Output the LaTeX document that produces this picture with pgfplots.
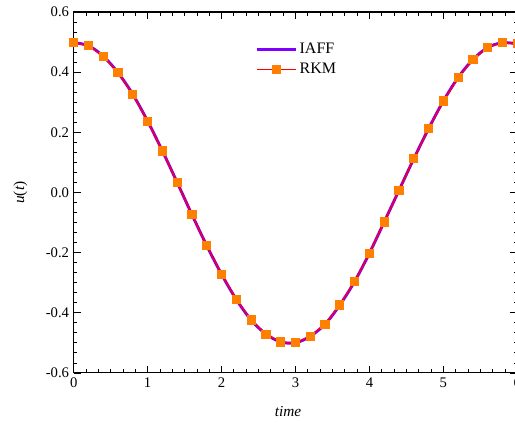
\documentclass[border=0pt]{standalone}
\usepackage{fontspec}
\setmainfont{Liberation Serif}
\usepackage{pgfplots}
\pgfplotsset{compat=1.18}
\definecolor{iaff}{RGB}{128,0,255}
\definecolor{rkmline}{RGB}{255,0,0}
\definecolor{rkmmark}{RGB}{255,128,0}
\begin{document}
\begin{tikzpicture}
\begin{axis}[
  name=ax,
  scale only axis,
  width=332.7pt, height=270.75pt,
  xmin=0, xmax=6, ymin=-0.6, ymax=0.6,
  xtick={0,1,2,3,4,5,6},
  ytick={-0.6,-0.4,-0.2,0,0.2,0.4,0.6},
  minor x tick num=5, minor y tick num=5,
  tick align=inside,
  major tick length=5.5pt, minor tick length=2.8pt,
  every tick/.style={black, line width=0.6pt},
  axis line style={line width=0.8pt},
  /pgf/number format/assume math mode=true,
  yticklabel style={/pgf/number format/fixed, /pgf/number format/fixed zerofill, /pgf/number format/precision=1, font=\fontsize{11}{13}\selectfont},
  xticklabel style={font=\fontsize{11}{13}\selectfont},
  xlabel={\textit{time}},
  ylabel={\textit{u}(\textit{t})},
  xlabel style={at={(axis description cs:0.483,-0.107)}, anchor=center, font=\fontsize{11.5}{13}\selectfont},
  ylabel style={at={(axis description cs:-0.12,0.5)}, anchor=center, font=\fontsize{11.5}{13}\selectfont},
  legend style={at={(0.40,0.93)}, anchor=north west, draw=none, fill=none, font=\fontsize{12}{14}\selectfont, row sep=2pt},
  legend cell align=left,
]
\addplot[iaff, line width=2.2pt, smooth, no markers,
  legend image code/.code={\draw[iaff, line width=2.2pt] (0pt,0pt) -- (29pt,0pt);}] table {
t u
0 0.498
0.2 0.488
0.4 0.453
0.6 0.398
0.8 0.326
1.0 0.237
1.2 0.138
1.4 0.033
1.6 -0.074
1.8 -0.177
2.0 -0.272
2.2 -0.356
2.4 -0.424
2.6 -0.471
2.8 -0.497
3.0 -0.500
3.2 -0.478
3.4 -0.438
3.6 -0.374
3.8 -0.296
4.0 -0.202
4.2 -0.098
4.4 0.007
4.6 0.112
4.8 0.212
5.0 0.304
5.2 0.382
5.4 0.442
5.6 0.482
5.8 0.498
6.0 0.494
};
\addlegendentry{IAFF}
\addplot[color=rkmline, line width=0.9pt, mark=square*, mark size=3pt, mark options={draw=rkmmark, fill=rkmmark, solid},
  legend image code/.code={\draw[rkmline, line width=0.9pt] (0pt,0pt) -- (29pt,0pt); \fill[rkmmark] (11.5pt,-3pt) rectangle (17.5pt,3pt);}] table {
t u
0 0.498
0.2 0.488
0.4 0.453
0.6 0.398
0.8 0.326
1.0 0.237
1.2 0.138
1.4 0.033
1.6 -0.074
1.8 -0.177
2.0 -0.272
2.2 -0.356
2.4 -0.424
2.6 -0.471
2.8 -0.497
3.0 -0.500
3.2 -0.478
3.4 -0.438
3.6 -0.374
3.8 -0.296
4.0 -0.202
4.2 -0.098
4.4 0.007
4.6 0.112
4.8 0.212
5.0 0.304
5.2 0.382
5.4 0.442
5.6 0.482
5.8 0.498
6.0 0.494
};
\addlegendentry{RKM}
\end{axis}
\pgfresetboundingbox
\useasboundingbox ([xshift=-55.3pt,yshift=-37.5pt]ax.south west) rectangle ([xshift=-1.7pt,yshift=9pt]ax.north east);
\end{tikzpicture}
\end{document}
